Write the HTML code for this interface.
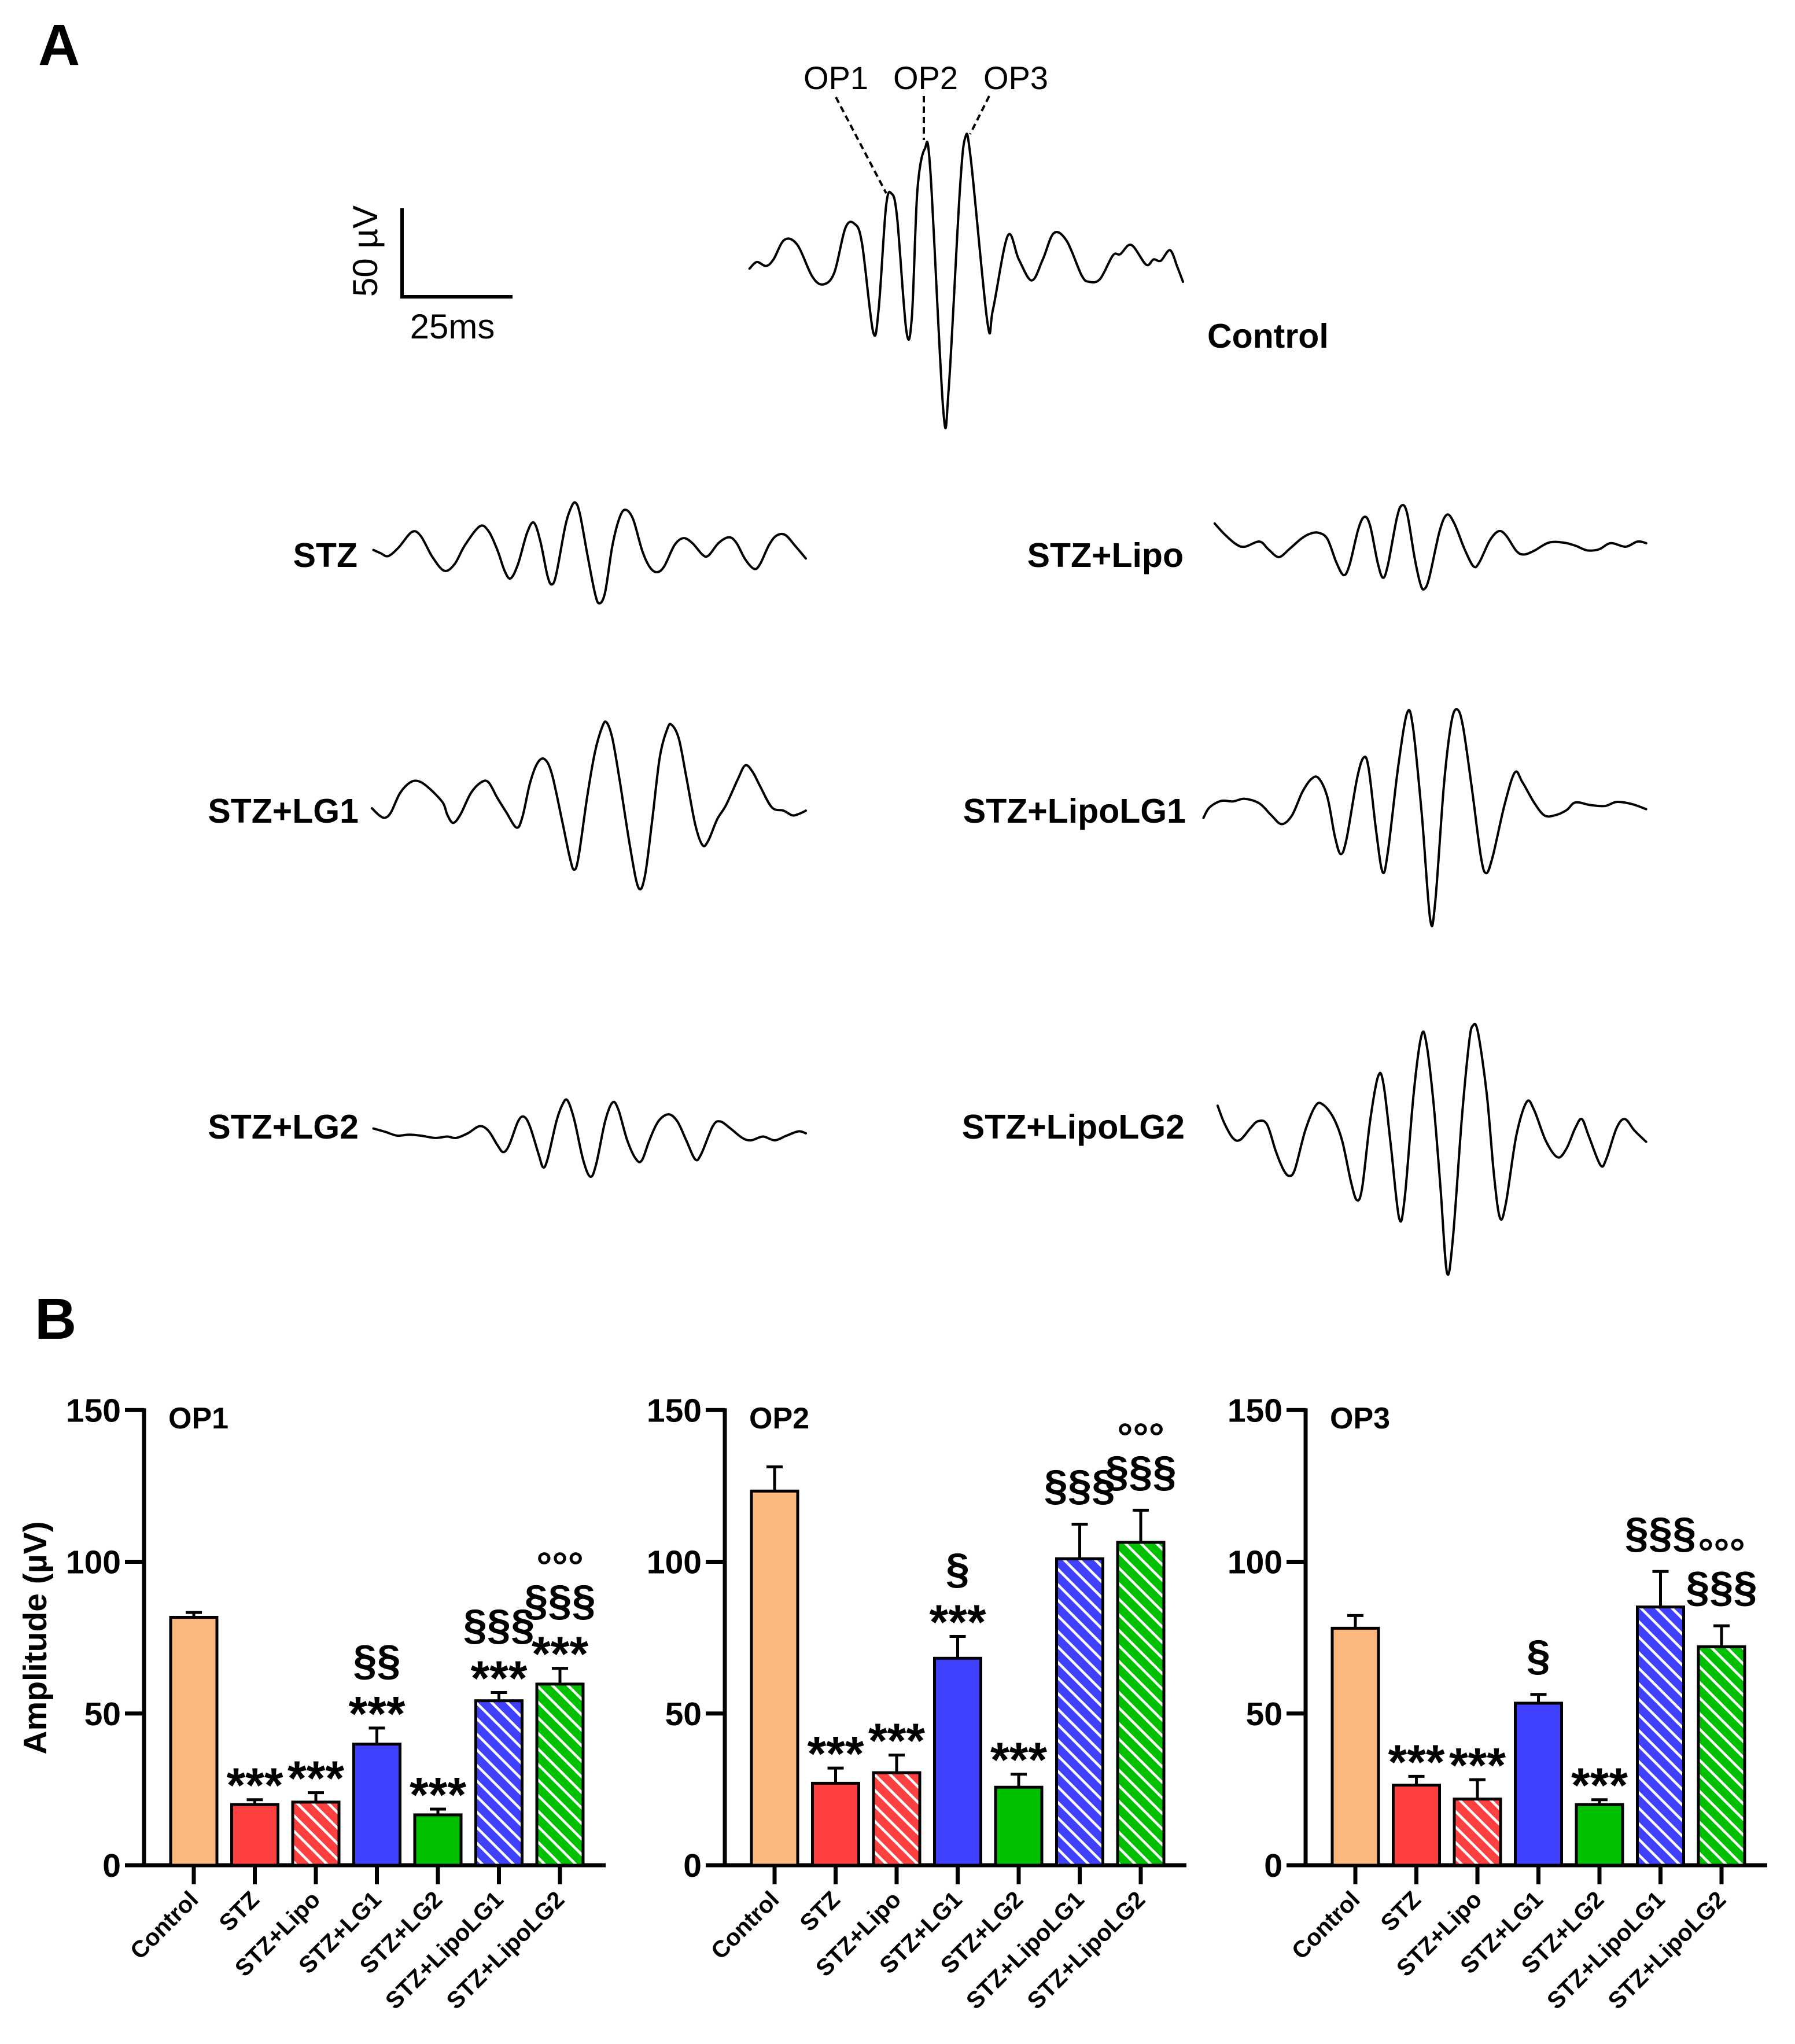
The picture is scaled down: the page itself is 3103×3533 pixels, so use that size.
<!DOCTYPE html>
<html><head><meta charset="utf-8"><style>
html,body{margin:0;padding:0;background:#fff}
svg{display:block}
text{font-family:"Liberation Sans",Arial,sans-serif}
</style></head><body>
<svg id="fig" xmlns="http://www.w3.org/2000/svg" width="3103" height="3533" viewBox="0 0 3103 3533">
<defs>
<pattern id="hatch-red" patternUnits="userSpaceOnUse" width="19" height="19" patternTransform="rotate(-45)"><rect width="19" height="19" fill="#FF4040"/><rect x="0" y="0" width="4.5" height="19" fill="#fff"/></pattern>
<pattern id="hatch-blue" patternUnits="userSpaceOnUse" width="19" height="19" patternTransform="rotate(-45)"><rect width="19" height="19" fill="#4040FF"/><rect x="0" y="0" width="4.5" height="19" fill="#fff"/></pattern>
<pattern id="hatch-green" patternUnits="userSpaceOnUse" width="19" height="19" patternTransform="rotate(-45)"><rect width="19" height="19" fill="#00C000"/><rect x="0" y="0" width="4.5" height="19" fill="#fff"/></pattern>
</defs>
<text x="66" y="112" font-size="100" font-weight="bold">A</text>
<text x="60" y="2314" font-size="100" font-weight="bold">B</text>
<g>
<path d="M695,360 V513 H886" fill="none" stroke="#000" stroke-width="6"/>
<text transform="translate(652,434) rotate(-90)" font-size="60" text-anchor="middle">50 µV</text>
<text x="782" y="585" font-size="60" text-anchor="middle">25ms</text>
</g>
<g font-size="56">
<text x="1445" y="154" text-anchor="middle">OP1</text>
<text x="1600" y="154" text-anchor="middle">OP2</text>
<text x="1756" y="154" text-anchor="middle">OP3</text>
<path d="M1445,168 L1532,334 M1597,166 V242 M1710,166 L1677,232" stroke="#000" stroke-width="4" stroke-dasharray="11,7" fill="none"/>
</g>
<g font-size="59" font-weight="bold">
<text x="2087" y="601">Control</text>
<text x="618" y="980" text-anchor="end">STZ</text>
<text x="2046" y="980" text-anchor="end">STZ+Lipo</text>
<text x="620" y="1422" text-anchor="end">STZ+LG1</text>
<text x="2050" y="1422" text-anchor="end">STZ+LipoLG1</text>
<text x="620" y="1968" text-anchor="end">STZ+LG2</text>
<text x="2048" y="1968" text-anchor="end">STZ+LipoLG2</text>
</g>
<g id="traces"></g>
<g id="charts"></g>
<text transform="translate(80,2831) rotate(-90)" font-size="57" font-weight="bold" text-anchor="middle">Amplitude (µV)</text>
</svg>
<script>
const NS = "http://www.w3.org/2000/svg";
// ---- Bar chart data ----
const categories = ["Control","STZ","STZ+Lipo","STZ+LG1","STZ+LG2","STZ+LipoLG1","STZ+LipoLG2"];
const panelTitles = ["OP1","OP2","OP3"];
const op1Means = [81.7, 20.0, 20.8, 39.9, 16.6, 54.2, 59.7];
const op1Errs  = [1.6, 1.6, 3.1, 5.3, 1.9, 2.7, 5.2];
const op2Means = [123.3, 27.0, 30.5, 68.2, 25.7, 101.0, 106.4];
const op2Errs  = [8.0, 5.0, 5.8, 7.2, 4.3, 11.4, 10.6];
const op3Means = [78.1, 26.4, 21.8, 53.4, 20.0, 85.1, 72.0];
const op3Errs  = [4.2, 2.9, 6.4, 2.9, 1.6, 11.7, 6.9];
const op1Marks = [[], ["***"], ["***"], ["***","§§"], ["***"], ["***","§§§"], ["***","§§§","°°°"]];
const op2Marks = [[], ["***"], ["***"], ["***","§"], ["***"], ["§§§"], ["§§§","°°°"]];
const op3Marks = [[], ["***"], ["***"], ["§"], ["***"], ["§§§"], ["§§§","°°°"]];
const yTicks = [0, 50, 100, 150];
const fills = ["#FBB77C","#FF4040","url(#hatch-red)","#4040FF","#00C000","url(#hatch-blue)","url(#hatch-green)"];

const Y0 = 3224, PXU = 5.245, AX0 = 249, PANEL_DX = 1004, BAR_DX = 105.5, BAR_W = 80;
function yScale(v){ return Y0 - v*PXU; }
function xScale(p,i){ return AX0 + p*PANEL_DX + 86 + i*BAR_DX; }

function mk(tag, attrs, parent){
  const e = document.createElementNS(NS, tag);
  for (const k in attrs) e.setAttribute(k, attrs[k]);
  parent.appendChild(e);
  return e;
}
const markStyle = {
  "*": {fs:84, off:46},
  "§": {fs:74, off:20},
  "°": {fs:68, off:39}
};
const charts = document.getElementById("charts");
const allMeans = [op1Means, op2Means, op3Means];
const allErrs = [op1Errs, op2Errs, op3Errs];
const allMarks = [op1Marks, op2Marks, op3Marks];
for (let p = 0; p < 3; p++) {
  const g = mk("g", {}, charts);
  
  
  const ax = AX0 + p*PANEL_DX;
  const yAxis = mk("line", {x1:ax, y1:yScale(150)-3, x2:ax, y2:Y0+3, stroke:"#000","stroke-width":7}, g);
  
  
  const xAxis = mk("line", {x1:ax-33, y1:Y0, x2:ax+798, y2:Y0, stroke:"#000","stroke-width":7}, g);
  
  
  yTicks.forEach(t => {
    const y = yScale(t);
    const tk = mk("line", {x1:ax-33, y1:y, x2:ax, y2:y, stroke:"#000","stroke-width":7}, g);
    
    
    const tl = mk("text", {x:ax-40, y:y+20, "font-size":57, "font-weight":"bold", "text-anchor":"end"}, g);
    tl.textContent = String(t);
    
    
  });
  const title = mk("text", {x:ax+42, y:2469, "font-size":52, "font-weight":"bold"}, g);
  title.textContent = panelTitles[p];
  
  
  categories.forEach((c, i) => {
    const cx = xScale(p, i), v = allMeans[p][i], e = allErrs[p][i];
    const top = yScale(v), etop = yScale(v+e);
    const bar = mk("rect", {x:cx-BAR_W/2, y:top, width:BAR_W, height:Y0-top, fill:fills[i], stroke:"#000", "stroke-width":5}, g);
    
    
    const eb = mk("path", {d:`M${cx},${top} V${etop} M${cx-14},${etop} H${cx+14}`, stroke:"#000","stroke-width":5, fill:"none"}, g);
    
    
    const tk = mk("line", {x1:cx, y1:Y0, x2:cx, y2:Y0+33, stroke:"#000","stroke-width":7}, g);
    
    
    const xl = mk("text", {transform:`translate(${cx+10},${Y0+62}) rotate(-45)`, "font-size":41, "font-weight":"bold", "text-anchor":"end"}, g);
    xl.textContent = c;
    
    
    const marks = allMarks[p][i];
    let center = 0;
    marks.forEach((m, k) => {
      const ch = m[0];
      if (k === 0) center = etop - (ch === "*" ? 42 : 62);
      else center -= (ch === "°" ? 80 : 70);
      const st = markStyle[ch];
      const t = mk("text", {x:cx, y:center + st.off, "font-size":st.fs, "font-weight":"bold", "text-anchor":"middle"}, g);
      t.textContent = m;
      
      
    });
  });
}

// ---- ERG traces ----
const controlTrace = [[150,995],[170,970],[195,985],[215,960],[245,885],[280,905],[320,1025],[350,1055],[380,1010],[410,840],[435,825],[455,900],[485,1235],[500,1150],[520,760],[535,710],[550,800],[575,1230],[590,1180],[605,700],[625,540],[640,620],[675,1530],[690,1450],[720,700],[735,495],[750,580],[795,1200],[810,1150],[850,870],[880,960],[915,1040],[945,960],[975,860],[1010,890],[1050,1020],[1070,1045],[1100,1035],[1135,945],[1155,940],[1185,905],[1225,980],[1245,960],[1265,965],[1290,925],[1310,990],[1325,1045]];
const stzTrace = [[50,160],[75,167],[100,173],[135,155],[180,122],[210,130],[250,175],[290,204],[325,190],[360,150],[410,110],[440,120],[470,160],[495,205],[515,220],[540,190],[570,125],[593,102],[615,140],[640,215],[655,233],[670,210],[700,110],[720,70],[735,60],[750,85],[775,170],[800,250],[815,273],[835,250],[860,150],[885,90],[905,75],[930,95],[960,160],[985,195],[1010,207],[1035,195],[1070,150],[1100,135],[1130,145],[1165,170],[1185,172],[1220,145],[1255,133],[1280,145],[1310,180],[1340,200],[1360,190],[1390,150],[1415,130],[1445,128],[1480,152],[1515,178]];
const lg1Trace = [[45,707],[70,722],[90,727],[110,715],[140,675],[175,652],[205,650],[240,665],[285,695],[300,720],[320,738],[345,720],[380,675],[415,652],[440,652],[470,685],[500,715],[535,748],[555,725],[580,655],[605,612],[630,603],[655,635],[690,735],[715,810],[730,837],[745,810],[775,680],[800,590],[825,535],[840,525],[860,560],[885,650],[920,790],[948,875],[970,850],[995,730],[1020,600],[1045,540],[1060,530],[1085,560],[1110,640],[1140,740],[1165,785],[1185,775],[1215,730],[1245,700],[1285,645],[1310,616],[1335,630],[1360,660],[1400,705],[1440,712],[1470,722],[1495,718],[1515,712]];
const lg2Trace = [[50,1385],[90,1392],[130,1400],[170,1398],[210,1400],[260,1405],[300,1402],[330,1405],[370,1395],[410,1380],[440,1390],[470,1420],[490,1435],[510,1420],[540,1370],[560,1360],[580,1380],[610,1440],[625,1467],[640,1450],[670,1370],[690,1335],[707,1325],[730,1365],[760,1450],[785,1487],[805,1460],[835,1370],[860,1330],[880,1345],[910,1410],[940,1450],[960,1452],[985,1410],[1015,1370],[1050,1355],[1080,1370],[1110,1410],[1140,1450],[1160,1440],[1200,1380],[1225,1370],[1260,1385],[1300,1405],[1330,1410],[1370,1402],[1410,1410],[1450,1400],[1490,1391],[1515,1395]];
const lipoTrace = [[78,95],[110,115],[150,135],[180,140],[230,130],[260,145],[295,160],[330,145],[370,125],[400,115],[430,113],[460,125],[490,170],[515,195],[535,175],[565,105],[586,82],[605,100],[630,170],[648,200],[665,175],[695,85],[712,60],[730,75],[755,160],[775,212],[788,222],[805,200],[840,110],[865,78],[890,95],[925,145],[955,178],[975,170],[1010,128],[1040,110],[1065,118],[1100,148],[1125,155],[1160,148],[1210,132],[1260,132],[1300,138],[1340,147],[1380,145],[1420,133],[1470,140],[1510,130],[1540,133]];
const lipoLg1Trace = [[40,665],[60,645],[100,632],[140,633],[180,628],[230,637],[270,660],[305,677],[340,660],[375,615],[405,590],[430,588],[460,625],[485,700],[505,735],[525,705],[560,590],[583,548],[600,570],[625,690],[647,770],[665,730],[700,565],[730,462],[750,490],[780,660],[808,860],[825,830],[855,600],[880,480],[900,455],[920,490],[950,610],[980,740],[998,772],[1020,740],[1060,640],[1095,577],[1120,595],[1160,635],[1195,660],[1230,660],[1270,650],[1300,635],[1350,640],[1400,642],[1440,634],[1490,638],[1540,648]];
const lipoLg2Trace = [[88,1222],[110,1255],[140,1285],[165,1288],[200,1265],[225,1252],[255,1258],[285,1310],[310,1345],[330,1358],[350,1345],[385,1270],[420,1222],[445,1220],[480,1245],[510,1290],[540,1370],[560,1405],[578,1380],[605,1250],[632,1165],[650,1180],[675,1300],[703,1440],[722,1400],[752,1200],[778,1088],[795,1100],[820,1220],[843,1380],[865,1545],[885,1480],[915,1250],[940,1100],[953,1067],[970,1080],[1000,1200],[1025,1360],[1045,1440],[1065,1410],[1100,1280],[1135,1215],[1160,1230],[1200,1290],[1240,1322],[1270,1305],[1300,1265],[1322,1248],[1345,1280],[1385,1337],[1405,1325],[1440,1265],[1468,1248],[1500,1270],[1540,1292]];

const traceDefs = [
  {name:"trace-control", pts:controlTrace, ox:1200, oy:12, sx:1.568, sy:2.2},
  {name:"trace-stz", pts:stzTrace, ox:620, oy:820, sx:1.96, sy:1.225},
  {name:"trace-stz-lg1", pts:lg1Trace, ox:620, oy:820, sx:1.96, sy:1.225},
  {name:"trace-stz-lg2", pts:lg2Trace, ox:620, oy:820, sx:1.96, sy:1.225},
  {name:"trace-stz-lipo", pts:lipoTrace, ox:2060, oy:820, sx:1.96, sy:1.12},
  {name:"trace-stz-lipolg1", pts:lipoLg1Trace, ox:2060, oy:820, sx:1.96, sy:1.12},
  {name:"trace-stz-lipolg2", pts:lipoLg2Trace, ox:2060, oy:820, sx:1.96, sy:1.12}
];
const traces = document.getElementById("traces");
traceDefs.forEach(td => {
  const P = td.pts.map(p => [td.ox + p[0]/td.sx, td.oy + p[1]/td.sy]);
  let d = `M${P[0][0].toFixed(1)},${P[0][1].toFixed(1)}`;
  for (let i = 0; i < P.length-1; i++) {
    const p0 = P[Math.max(0,i-1)], p1 = P[i], p2 = P[i+1], p3 = P[Math.min(P.length-1,i+2)];
    const c1 = [p1[0]+(p2[0]-p0[0])/6, p1[1]+(p2[1]-p0[1])/6];
    const c2 = [p2[0]-(p3[0]-p1[0])/6, p2[1]-(p3[1]-p1[1])/6];
    d += ` C${c1[0].toFixed(1)},${c1[1].toFixed(1)} ${c2[0].toFixed(1)},${c2[1].toFixed(1)} ${p2[0].toFixed(1)},${p2[1].toFixed(1)}`;
  }
  const path = mk("path", {d:d, fill:"none", stroke:"#000", "stroke-width":4, "stroke-linejoin":"round", "stroke-linecap":"round"}, traces);
  
  
});
</script>
</body></html>
